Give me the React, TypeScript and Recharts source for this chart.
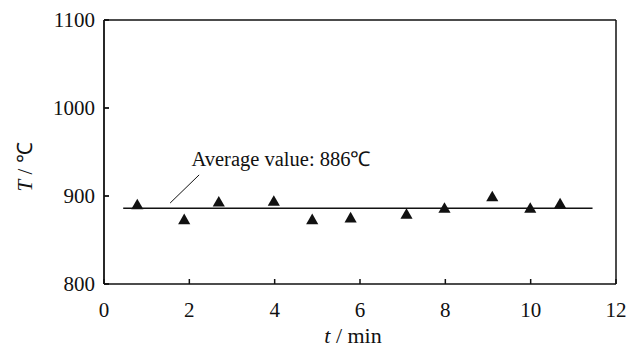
import {
  ComposedChart,
  Line,
  Scatter,
  XAxis,
  YAxis,
  ReferenceLine,
  ReferenceDot,
} from "recharts";

// measured temperatures (t in min, T in °C)
const times = [0.78, 1.88, 2.69, 3.98, 4.88, 5.78, 7.09, 7.98, 9.1, 9.99, 10.69];
const temps = [889, 872, 892, 893, 872, 874, 878, 885, 898, 885, 890];

const avgValue = 886;
const avgSpan = [0.45, 11.45];
const leader = [
  { x: 1.55, y: 892 },
  { x: 2.23, y: 924 },
];
const noteAt = { x: 2.05, y: 942 };
const noteText = "Average value: 886℃";

const xTicks = [0, 2, 4, 6, 8, 10, 12];
const yTicks = [800, 900, 1000, 1100];

const FONT = "Liberation Serif";
const txt = { fontFamily: FONT };

const points = times.map((t, i) => ({ t, T: temps[i] }));
const avgLine = avgSpan.map((t) => ({ t, T: avgValue }));

type VB = { x: number; y: number; width: number; height: number };

function YLabel({ viewBox }: { viewBox?: VB }) {
  if (!viewBox) return null;
  const cx = viewBox.x + 25;
  const cy = viewBox.y + viewBox.height / 2 + 15;
  return (
    <text
      x={cx}
      y={cy}
      transform={`rotate(-90 ${cx} ${cy})`}
      textAnchor="middle"
      dominantBaseline="central"
      style={txt}
      fontSize={21}
      fill="#111"
    >
      <tspan fontStyle="italic">T</tspan>
      <tspan> / ℃</tspan>
    </text>
  );
}

function XLabel({ viewBox }: { viewBox?: VB }) {
  if (!viewBox) return null;
  return (
    <text
      x={viewBox.x + viewBox.width / 2 - 7}
      y={viewBox.y + 59}
      textAnchor="middle"
      style={txt}
      fontSize={22}
      fill="#111"
    >
      <tspan fontStyle="italic">t</tspan>
      <tspan> / min</tspan>
    </text>
  );
}

function NoteLabel({ viewBox }: { viewBox?: VB }) {
  if (!viewBox) return null;
  return (
    <text
      x={viewBox.x}
      y={viewBox.y + viewBox.height / 2}
      dominantBaseline="central"
      style={txt}
      fontSize={20.5}
      fill="#111"
    >
      {noteText}
    </text>
  );
}

function XTick({ x, y, payload }: { x?: number; y?: number; payload?: { value: number } }) {
  return (
    <text x={x} y={y} dy="0.71em" textAnchor="middle" style={txt} fontSize={21} fill="#111">
      {payload?.value}
    </text>
  );
}

function YTick({ x, y, payload }: { x?: number; y?: number; payload?: { value: number } }) {
  return (
    <text x={x} y={y} dy="0.355em" textAnchor="end" style={txt} fontSize={21} fill="#111">
      {payload?.value}
    </text>
  );
}

export default function App() {
  return (
    <div style={{ position: "absolute", left: 0, top: 0, background: "#fff", fontFamily: FONT }}>
      <ComposedChart
        width={628}
        height={354}
        margin={{ top: 20, right: 12, bottom: 0, left: 0 }}
        style={txt}
      >
        <XAxis
          dataKey="t"
          type="number"
          domain={[0, 12]}
          ticks={xTicks}
          allowDataOverflow
          height={70}
          tickSize={-5}
          tickMargin={23}
          stroke="#111"
          strokeWidth={1.5}
          tick={<XTick />}
          label={<XLabel />}
        />
        <YAxis
          dataKey="T"
          type="number"
          domain={[800, 1100]}
          ticks={yTicks}
          allowDataOverflow
          width={104}
          tickSize={-5}
          tickMargin={14}
          stroke="#111"
          strokeWidth={1.8}
          tick={<YTick />}
          label={<YLabel />}
        />
        <ReferenceLine y={1100} stroke="#111" strokeWidth={1.5} />
        <ReferenceLine x={12} stroke="#111" strokeWidth={1.5} />
        <Line
          data={avgLine}
          dataKey="T"
          stroke="#111"
          strokeWidth={1.5}
          dot={false}
          activeDot={false}
          isAnimationActive={false}
        />
        <ReferenceLine segment={leader} stroke="#111" strokeWidth={1} />
        <ReferenceDot
          x={noteAt.x}
          y={noteAt.y}
          r={0}
          fill="none"
          stroke="none"
          label={<NoteLabel />}
        />
        <Scatter
          data={points}
          dataKey="T"
          shape="triangle"
          fill="#111"
          size={30}
          isAnimationActive={false}
        />
      </ComposedChart>
    </div>
  );
}
